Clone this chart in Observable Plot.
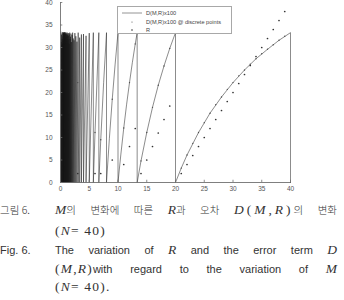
<!DOCTYPE html>
<html><head><meta charset="utf-8">
<script src="https://cdn.jsdelivr.net/npm/d3@7"></script>
<script src="https://cdn.jsdelivr.net/npm/@observablehq/plot@0.6"></script>
<style>
body{margin:0;background:#fff;width:344px;height:300px;overflow:hidden;font-family:"Liberation Sans",Arial,sans-serif;}
#wrap{position:relative;width:344px;height:300px;}
#chart svg{display:block;}
#legend{position:absolute;left:117px;top:6px;width:115px;height:28px;border:0.8px solid #a8a8a8;background:#fff;box-sizing:border-box;font-size:5.6px;color:#444;}
#legend .row{position:absolute;left:0;width:100%;height:8px;line-height:8px;}
#legend .smp{position:absolute;left:4px;width:20px;height:8px;}
#legend .lab{position:absolute;left:28px;white-space:nowrap;}
.ln{position:absolute;left:0;width:344px;height:18px;line-height:18px;color:#333;}
.ln .l{position:absolute;left:0;top:0;white-space:nowrap;}
.ln .t{position:absolute;left:55px;top:0;width:282px;white-space:nowrap;}
.ln .j{text-align:justify;text-align-last:justify;}
.ko{font-family:"Noto Sans CJK KR",sans-serif;font-size:10.5px;font-weight:300;}
.en{font-family:"Liberation Sans",Arial,sans-serif;font-size:11px;}
.m{font-family:"Liberation Serif","Times New Roman",serif;font-style:italic;font-size:13.5px;}
.s{font-family:"Liberation Serif","Times New Roman",serif;font-size:13.5px;}
.eq1{letter-spacing:3px;}
.eq2{letter-spacing:1.2px;}
</style>
</head><body>
<div id="wrap">
<div id="chart"></div>
<div id="legend">
  <div class="row" style="top:2px"><svg class="smp" viewBox="0 0 20 8"><line x1="0" y1="4" x2="20" y2="4" stroke="#888" stroke-width="0.9"/></svg><span class="lab">D(M,R)x100</span></div>
  <div class="row" style="top:10.5px"><svg class="smp" viewBox="0 0 20 8"><circle cx="10" cy="4" r="0.6" fill="#555"/></svg><span class="lab">D(M,R)x100 @ discrete points</span></div>
  <div class="row" style="top:18.5px"><svg class="smp" viewBox="0 0 20 8"><circle cx="10" cy="4" r="0.8" fill="#333"/></svg><span class="lab">R</span></div>
</div>
<div class="ln" style="top:201px"><span class="l ko">그림 6.</span><span class="t j ko"><span class="m">M</span>의 변화에 따른 <span class="m">R</span>과 오차 <span class="eq1"><span class="m">D</span><span class="s">(</span><span class="m">M</span><span class="s">,</span><span class="m">R</span><span class="s">)</span></span>의 변화</span></div>
<div class="ln" style="top:221px"><span class="t eq2"><span class="s">(</span><span class="m">N</span><span class="s">= 40)</span></span></div>
<div class="ln" style="top:241px"><span class="l en">Fig. 6.</span><span class="t j en">The variation of <span class="m">R</span> and the error term <span class="m">D</span></span></div>
<div class="ln" style="top:260px"><span class="t j en"><span class="eq2"><span class="s">(</span><span class="m">M</span><span class="s">,</span><span class="m">R</span><span class="s">)</span></span>with regard to the variation of <span class="m">M</span></span></div>
<div class="ln" style="top:278px"><span class="t en eq2"><span class="s">(</span><span class="m">N</span><span class="s">= 40).</span></span></div>
</div>
<script>
// ---- data ----
const xTicks = [0, 5, 10, 15, 20, 25, 30, 35, 40];
const yTicks = [0, 5, 10, 15, 20, 25, 30, 35, 40];
// tooth end points of the dense saw-tooth region (M values where D jumps back down)
const denseBreaks = [0.05, 0.1, 0.15, 0.2, 0.25, 0.3, 0.35, 0.4, 0.45, 0.5, 0.506, 0.513, 0.519, 0.526, 0.533, 0.541, 0.548, 0.556, 0.563, 0.571, 0.58, 0.588, 0.597, 0.606, 0.615, 0.625, 0.635, 0.645, 0.656, 0.667, 0.678, 0.69, 0.702, 0.714, 0.727, 0.741, 0.755, 0.769, 0.784, 0.8, 0.816, 0.833, 0.851, 0.87, 0.889, 0.909, 0.93, 0.952, 0.976, 1, 1.026, 1.053, 1.081, 1.111, 1.143, 1.176, 1.212, 1.25, 1.29, 1.333, 1.379, 1.429, 1.481, 1.538, 1.6, 1.667, 1.739, 1.818, 1.905, 2, 2.105, 2.222, 2.353, 2.5, 2.667, 2.857, 3.077, 3.333, 3.636, 4, 4.444, 5, 5.714];
// peak heights of those teeth (ragged in the figure)
const densePeaks = [33.5, 31.2, 32.8, 30.6, 33.1, 31.9, 33.4, 30.9, 32.5, 33.2, 31.4, 32.9, 30.8, 33.3, 32.1, 31.0, 33.0, 32.4, 30.7, 33.4, 31.8, 32.6, 33.1, 31.3, 32.0, 33.3, 30.9, 32.7, 31.6, 33.2, 32.3, 31.1, 33.4, 30.8, 32.8, 31.9, 33.0, 32.2, 31.5, 33.3, 30.6, 32.9, 31.7, 33.1, 32.4, 31.2, 33.4, 32.0, 30.9, 33.2, 31.6, 32.7, 33.0, 31.4, 32.5, 33.3, 31.0, 32.8, 33.1, 31.8, 32.6, 33.2, 30.8, 32.9, 33.3, 31.9, 32.4, 33.1, 31.2, 32.8, 33.3, 32.0, 31.6, 33.2, 32.5, 31.3, 33.3, 32.2, 32.9, 33.0, 32.6, 33.2, 33.3];
// continuous curve for the wide teeth (M >= 5.714)
const curveM = [5.714, 6, 6.667, 6.667, 7, 7.5, 8, 8, 8.5, 9, 9.5, 10, 10, 10.5, 11, 11.5, 12, 12.5, 13, 13.333, 13.333, 13.5, 14, 15, 16, 17, 18, 19, 20, 20, 21, 22, 24, 26, 28, 30, 32, 34, 36, 38, 40, 40];
const curveD = [0, 11.1, 33.3, 0, 9.5, 22.2, 33.3, 0, 9.8, 18.5, 26.3, 33.3, 0, 6.3, 12.1, 17.4, 22.2, 26.7, 30.8, 33.3, 0, 1.2, 4.8, 11.1, 16.7, 21.6, 25.9, 29.8, 33.3, 0, 3.2, 6.1, 11.1, 15.4, 19.0, 22.2, 25.0, 27.5, 29.6, 31.6, 33.3, 0];
// discrete points
const discM = [3, 6, 7, 9, 11, 12, 13, 14, 15, 16, 17, 18, 19, 21, 22, 23, 24, 25, 26, 27, 28, 29, 30, 31, 32, 33, 34, 35, 36, 37, 38, 39];
const discD = [22.2, 11.1, 9.5, 18.5, 12.1, 22.2, 30.8, 4.8, 11.1, 16.7, 21.6, 25.9, 29.8, 3.2, 6.1, 8.7, 11.1, 13.3, 15.4, 17.3, 19.0, 20.7, 22.2, 23.7, 25.0, 26.3, 27.5, 28.6, 29.6, 30.6, 31.6, 32.5];
const discR = [2, 2, 2, 5, 4, 8, 12, 2, 5, 8, 11, 14, 17, 2, 4, 6, 8, 10, 12, 14, 16, 18, 20, 22, 24, 26, 28, 30, 32, 34, 36, 38];

// ---- build tables: each tooth is its own path so overlaps darken ----
const line = [];
let tooth = 0, prevM = 0;
for (let i = 0; i < denseBreaks.length; i++) {
  const b = denseBreaks[i];
  line.push({M: prevM, D: 0, tooth});
  line.push({M: b, D: densePeaks[i], tooth});
  line.push({M: b, D: 0, tooth});
  tooth++;
  prevM = b;
}
for (let i = 0; i < curveM.length; i++) {
  const p = {M: curveM[i], D: curveD[i]};
  if (i > 0 && curveD[i] === 0 && curveM[i] === curveM[i - 1]) {
    line.push({...p, tooth});
    tooth++;
  }
  line.push({...p, tooth});
}
const disc = discM.map((m, i) => ({M: m, D: discD[i], R: discR[i]}));

const axisColor = "#707070";
const chart = Plot.plot({
  width: 344, height: 196,
  marginLeft: 60, marginRight: 54, marginTop: 2, marginBottom: 14,
  style: {fontFamily: "Liberation Sans, Arial, sans-serif", fontSize: "6.5px", color: "#555", background: "#fff"},
  x: {domain: [0, 40]},
  y: {domain: [0, 40]},
  marks: [
    Plot.line(line, {x: "M", y: "D", z: "tooth", stroke: "#1a1a1a", strokeOpacity: 0.5, strokeWidth: 1}),
    Plot.dot(disc, {x: "M", y: "D", r: 0.7, fill: "#4a4a4a", stroke: null}),
    Plot.dot(disc, {x: "M", y: "R", r: 0.85, fill: "#333", stroke: null}),
    Plot.ruleX([0], {stroke: axisColor, strokeWidth: 0.9}),
    Plot.ruleY([0], {stroke: axisColor, strokeWidth: 0.9}),
    Plot.ruleX(xTicks, {x: d => d, y1: 0, y2: 0.5, stroke: axisColor, strokeWidth: 0.8}),
    Plot.ruleY(yTicks, {y: d => d, x1: 0, x2: 0.4, stroke: axisColor, strokeWidth: 0.8}),
    Plot.axisX(xTicks, {tickSize: 0, tickPadding: 4, fontSize: 6.5, fill: "#555", label: null}),
    Plot.axisY(yTicks, {tickSize: 0, tickPadding: 8, fontSize: 6.5, fill: "#555", label: null})
  ]
});
document.getElementById("chart").appendChild(chart);
</script>
</body></html>
